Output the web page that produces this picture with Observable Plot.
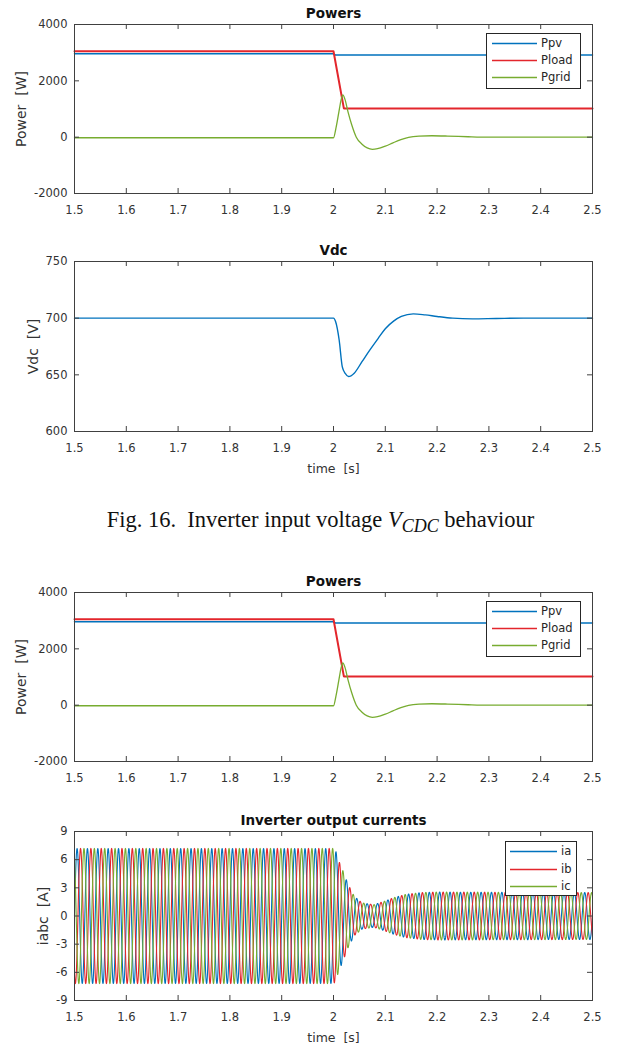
<!DOCTYPE html>
<html><head><meta charset="utf-8">
<script src="https://cdn.jsdelivr.net/npm/d3@7"></script>
<script src="https://cdn.jsdelivr.net/npm/@observablehq/plot@0.6"></script>
<style>
html,body{margin:0;padding:0;background:#fff}
body{width:618px;height:1047px;position:relative;overflow:hidden;font-family:"DejaVu Sans",sans-serif}
.panel{position:absolute;left:0}
.legend{position:absolute;box-sizing:border-box;border:1px solid #262626;background:#fff;font:11.5px "DejaVu Sans",sans-serif;color:#262626}
.legend .row{position:absolute;left:0;height:17px;line-height:17px;white-space:nowrap}
.legend svg{position:absolute;top:0}
.legend span{position:absolute;top:0}
.caption{position:absolute;left:0;width:641px;top:508px;text-align:center;font:22.5px "Liberation Serif","Times New Roman",serif;line-height:23px;color:#111;white-space:pre}
.caption sub{font-size:0.8em;vertical-align:-0.3em}
</style></head><body>
<script>
// ---- shared axes ----
const timeTicks = [1.5, 1.6, 1.7, 1.8, 1.9, 2.0, 2.1, 2.2, 2.3, 2.4, 2.5];
const powerTicks = [-2000, 0, 2000, 4000];
const vdcTicks = [600, 650, 700, 750];
const currentTicks = [-9, -6, -3, 0, 3, 6, 9];

// ---- Powers ----
const pvTime  = [1.5, 2.0, 2.003, 2.5];
const pvPower = [2960, 2960, 2920, 2920];
const loadTime  = [1.5, 2.0, 2.02, 2.5];
const loadPower = [3050, 3050, 1020, 1020];
const gridTime  = [1.5, 2.0, 2.005, 2.01, 2.015, 2.018, 2.022, 2.028, 2.035, 2.044, 2.055, 2.065, 2.075, 2.085, 2.1, 2.115, 2.13, 2.145, 2.165, 2.19, 2.22, 2.26, 2.3, 2.5];
const gridPower = [-20, -20, 350, 850, 1350, 1500, 1350, 900, 450, 0, -250, -380, -430, -410, -320, -200, -90, -10, 35, 50, 40, 15, 0, 0];

// ---- Vdc ----
const vdcTime  = [1.5, 2.0, 2.004, 2.011, 2.017, 2.023, 2.029, 2.04, 2.055, 2.07, 2.086, 2.1, 2.116, 2.131, 2.154, 2.177, 2.2, 2.23, 2.268, 2.314, 2.367, 2.5];
const vdcValue = [700, 700, 697, 680.5, 657, 651, 648.5, 651.5, 661.6, 671.8, 682, 690.7, 697.4, 701.5, 703.8, 702.9, 701.5, 700, 699.4, 699.7, 700, 700];

// ---- Inverter output currents (envelope, 50 Hz three-phase) ----
const envTime = [1.5, 2.0, 2.004, 2.01, 2.017, 2.028, 2.04, 2.055, 2.078, 2.1, 2.116, 2.139, 2.17, 2.2, 2.5];
const envAmp  = [7.2, 7.2, 7.0, 5.9, 5.0, 3.4, 2.1, 1.4, 1.2, 1.6, 1.95, 2.3, 2.5, 2.55, 2.5];
const gridFrequency = 50;
const phaseNames = ["ia", "ib", "ic"];
const phaseShiftDeg = [0, -120, 120];

const powerNames = ["Ppv", "Pload", "Pgrid"];
const colors = {Ppv: "#0072BD", Pload: "#E3262C", Pgrid: "#77AC30", ia: "#0072BD", ib: "#E3262C", ic: "#77AC30"};

const zip = (ts, vs) => ts.map((t, i) => ({t, v: vs[i]}));
const pvData = zip(pvTime, pvPower);
const loadData = zip(loadTime, loadPower);
const gridData = zip(gridTime, gridPower);
const vdcData = zip(vdcTime, vdcValue);

const env = d3.scaleLinear(envTime, envAmp);
const currentData = [];
for (let p = 0; p < 3; p++) {
  for (let k = 0; k <= 2500; k++) {
    const t = 1.5 + k * 0.0004;
    currentData.push({t, v: env(t) * Math.sin(2 * Math.PI * gridFrequency * t + phaseShiftDeg[p] * Math.PI / 180), phase: phaseNames[p]});
  }
}

const W = 618, ML = 74, MR = 26, PW = W - ML - MR;
const AX = "#404040";

function panel({top, plotHeight, yDomain, yTicks, yLabel, yLabelDx, title, xLabel, marks}) {
  const mt = 24, mb = xLabel ? 47 : 32;
  const svg = Plot.plot({
    width: W, height: mt + plotHeight + mb,
    marginTop: mt, marginBottom: mb, marginLeft: ML, marginRight: MR,
    x: {domain: [1.5, 2.5]},
    y: {domain: yDomain},
    style: {fontFamily: "DejaVu Sans, sans-serif", fontSize: "11.5px", color: "#333", background: "transparent", overflow: "visible"},
    marks: [
      ...marks,
      Plot.frame({stroke: AX, strokeWidth: 1}),
      Plot.tickX(timeTicks, {x: d => d, insetTop: plotHeight - 5, stroke: AX}),
      Plot.tickX(timeTicks, {x: d => d, insetBottom: plotHeight - 5, stroke: AX}),
      Plot.tickY(yTicks, {y: d => d, insetRight: PW - 5, stroke: AX}),
      Plot.tickY(yTicks, {y: d => d, insetLeft: PW - 5, stroke: AX}),
      Plot.axisX(timeTicks, {tickSize: 0, tickPadding: 12, tickFormat: d => String(d), label: null}),
      Plot.axisY(yTicks, {tickSize: 0, tickPadding: 7, tickFormat: d => String(d), label: null}),
      Plot.text([title], {text: d => d, frameAnchor: "top", lineAnchor: "middle", textAnchor: "middle", dy: -11, fontWeight: "bold", fontSize: 13.5, fill: "#111"}),
      Plot.text([yLabel], {text: d => d, frameAnchor: "left", lineAnchor: "middle", textAnchor: "middle", rotate: -90, dx: yLabelDx, fontSize: 14, fill: "#333"}),
      xLabel ? Plot.text([xLabel], {text: d => d, frameAnchor: "bottom", lineAnchor: "middle", textAnchor: "middle", dy: 37, fontSize: 12.5, fill: "#333"}) : null
    ]
  });
  svg.classList.add("panel");
  svg.style.top = top + "px";
  svg.style.position = "absolute";
  document.body.appendChild(svg);
}

function legend({left, top, width, height, names, rowCenters, lineX0, lineX1, textX}) {
  const div = document.createElement("div");
  div.className = "legend";
  Object.assign(div.style, {left: left + "px", top: top + "px", width: width + "px", height: height + "px"});
  names.forEach((name, i) => {
    const row = document.createElement("div");
    row.className = "row";
    row.style.top = (rowCenters[i] - top - 1 - 8.5) + "px";
    row.style.width = (width - 2) + "px";
    const s = document.createElementNS("http://www.w3.org/2000/svg", "svg");
    s.setAttribute("width", lineX1 - left);
    s.setAttribute("height", 17);
    s.style.left = "0px";
    const l = document.createElementNS("http://www.w3.org/2000/svg", "line");
    l.setAttribute("x1", lineX0 - left - 1); l.setAttribute("x2", lineX1 - left - 1);
    l.setAttribute("y1", 8.5); l.setAttribute("y2", 8.5);
    l.setAttribute("stroke", colors[name]); l.setAttribute("stroke-width", 1.5);
    s.appendChild(l);
    row.appendChild(s);
    const sp = document.createElement("span");
    sp.textContent = name;
    sp.style.left = (textX - left - 1) + "px";
    row.appendChild(sp);
    div.appendChild(row);
  });
  document.body.appendChild(div);
}

function powerMarks() {
  return [
    Plot.line(pvData, {x: "t", y: "v", stroke: colors.Ppv, strokeWidth: 1.5}),
    Plot.line(loadData, {x: "t", y: "v", stroke: colors.Pload, strokeWidth: 2}),
    Plot.line(gridData, {x: "t", y: "v", stroke: colors.Pgrid, strokeWidth: 1.3, curve: "monotone-x"})
  ];
}

// Panel 1: Powers
panel({top: 0, plotHeight: 169, yDomain: [-2000, 4000], yTicks: powerTicks, yLabel: "Power  [W]", yLabelDx: -53, title: "Powers", marks: powerMarks()});
legend({left: 486, top: 33, width: 95, height: 56, names: powerNames, rowCenters: [43.3, 60.5, 77.7], lineX0: 492, lineX1: 537, textX: 541});

// Panel 2: Vdc
panel({top: 237, plotHeight: 170, yDomain: [600, 750], yTicks: vdcTicks, yLabel: "Vdc  [V]", yLabelDx: -41, title: "Vdc", xLabel: "time  [s]",
  marks: [Plot.line(vdcData, {x: "t", y: "v", stroke: colors.Ppv, strokeWidth: 1.4, curve: "monotone-x"})]});

// Caption
const cap = document.createElement("div");
cap.className = "caption";
cap.innerHTML = "Fig. 16.  Inverter input voltage <i>V</i><sub><i>CDC</i></sub> behaviour";
document.body.appendChild(cap);

// Panel 3: Powers
panel({top: 568, plotHeight: 169, yDomain: [-2000, 4000], yTicks: powerTicks, yLabel: "Power  [W]", yLabelDx: -53, title: "Powers", marks: powerMarks()});
legend({left: 486, top: 601, width: 95, height: 56, names: powerNames, rowCenters: [611.3, 628.5, 645.7], lineX0: 492, lineX1: 537, textX: 541});

// Panel 4: Inverter output currents
panel({top: 807, plotHeight: 169, yDomain: [-9, 9], yTicks: currentTicks, yLabel: "iabc  [A]", yLabelDx: -31, title: "Inverter output currents", xLabel: "time  [s]",
  marks: phaseNames.map(p => Plot.line(currentData.filter(d => d.phase === p), {x: "t", y: "v", stroke: colors[p], strokeWidth: 1.1}))});
legend({left: 505, top: 841, width: 72, height: 55, names: phaseNames, rowCenters: [851.7, 869, 886.7], lineX0: 510, lineX1: 557, textX: 561});
</script>
</body></html>
